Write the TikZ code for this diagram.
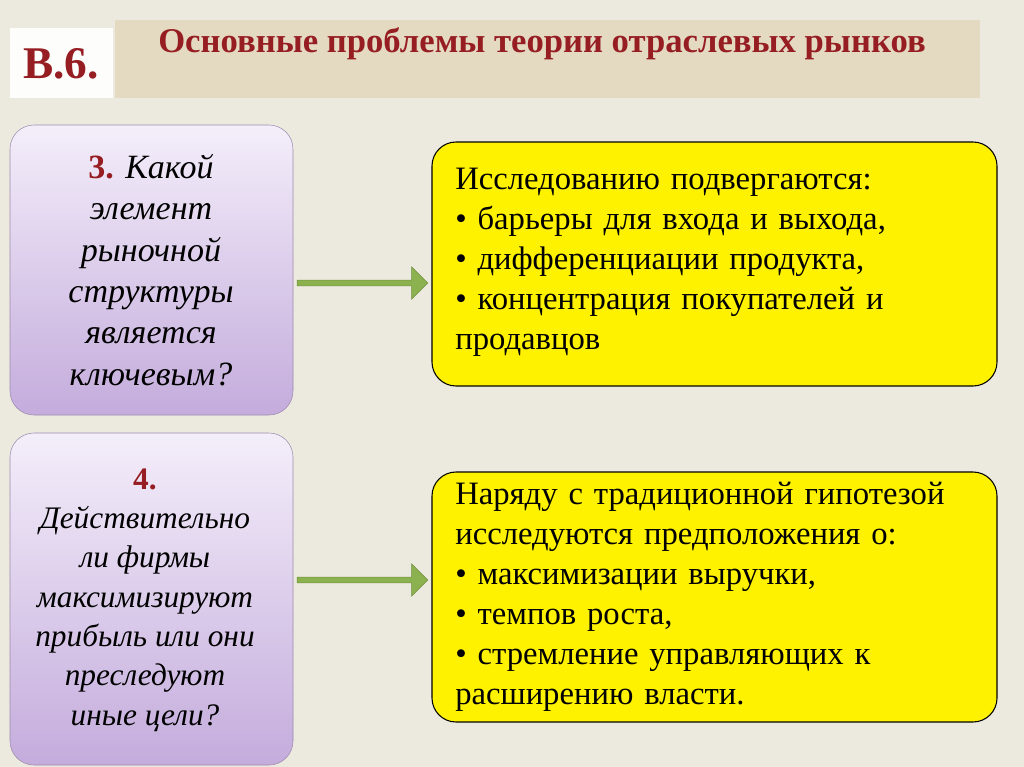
\documentclass[tikz,border=0pt]{standalone}
\usepackage{fontspec}
\setmainfont{Liberation Serif}
\usetikzlibrary{shapes,arrows,positioning}
\definecolor{bgbeige}{RGB}{236,234,222}
\definecolor{titlebeige}{RGB}{228,218,194}
\definecolor{darkred}{RGB}{150,30,35}
\definecolor{lavtop}{RGB}{244,238,250}
\definecolor{lavbot}{RGB}{196,172,220}
\definecolor{arrowgreen}{RGB}{140,178,80}
\begin{document}
\begin{tikzpicture}[x=0.75pt,y=-0.75pt,
			every node/.style={inner sep=0pt},
			questionbox/.style={rounded corners=18pt,draw=lavbot!80!black,
				top color=lavtop,bottom color=lavbot},
			questiontext/.style={align=center,font=\fontsize{25.5}{31}\selectfont\itshape},
			answerbox/.style={rounded corners=18pt,draw=black,thick,fill=yellow},
			answertext/.style={align=left,text width=410pt,font=\fontsize{24.5}{30}\selectfont},
			greenarrow/.style={single arrow,fill=arrowgreen,draw=arrowgreen!80!black,
				minimum height=98pt,minimum width=18pt,single arrow head extend=10pt,
				inner sep=2pt}
		]
		\fill[bgbeige] (0,0) rectangle (1024,767);
		\useasboundingbox (0,0) rectangle (1024,767);
		% title strip
		\fill[titlebeige] (115,20) rectangle (980,98);
		\node[font=\fontsize{26}{30}\selectfont\bfseries,text=darkred](title) at (542,44)
			{Основные проблемы теории отраслевых рынков};
		\fill[white!90!bgbeige] (10,28) rectangle (113,98);
		\node[font=\fontsize{34}{36}\selectfont\bfseries,text=darkred](num) at (61,64) {В.6.};
		% left questions
		\draw[questionbox] (10,125) rectangle (293,415);
		\node[questiontext](Q1) at (151,270)
			{{\upshape\bfseries\color{darkred}3.} Какой\\элемент\\рыночной\\структуры\\является\\ключевым?};
		\draw[questionbox] (10,433) rectangle (293,765);
		\node[questiontext,font=\fontsize{23.5}{29.5}\selectfont\itshape](Q2) at (145,600)
			{{\upshape\bfseries\color{darkred}4.}\\Действительно\\ли фирмы\\максимизируют\\прибыль или они\\преследуют\\иные цели?};
		% right answers
		\draw[answerbox] (432,142) rectangle (997,386);
		\node[answertext,anchor=north west](A1) at (455,168)
			{Исследованию подвергаются:\\• барьеры для входа и выхода,\\• дифференциации продукта,\\• концентрация покупателей и\\продавцов};
		\draw[answerbox] (432,472) rectangle (997,722);
		\node[answertext,anchor=north west](A2) at (455,482)
			{Наряду с традиционной гипотезой\\исследуются предположения о:\\• максимизации выручки,\\• темпов роста,\\• стремление управляющих к\\расширению власти.};
		% arrows
		\node[greenarrow](G1) at (361,283) {};
		\node[greenarrow](G2) at (361,580) {};
	\end{tikzpicture}
\end{document}
